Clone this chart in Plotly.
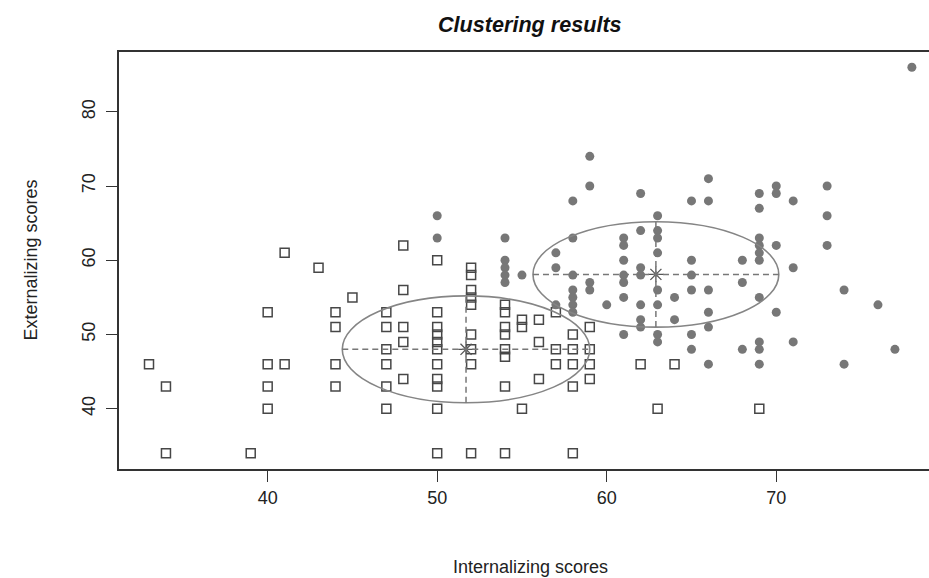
import plotly.graph_objects as go

# ---------------- data ----------------
# cluster 1 (open squares)
sq_x = [33, 34, 34, 39,
        40, 40, 40, 40, 41, 41, 43,
        44, 44, 44, 44, 45,
        47, 47, 47, 47, 47, 47,
        48, 48, 48, 48, 48,
        50, 50, 50, 50, 50, 50, 50, 50, 50, 50, 50,
        52, 52, 52, 52, 52, 52, 52, 52, 52,
        54, 54, 54, 54, 54, 54, 54, 54,
        55, 55, 55, 56, 56, 56, 57, 57, 57,
        58, 58, 58, 58, 58, 59, 59, 59, 59,
        62, 63, 64, 69]
sq_y = [46, 43, 34, 34,
        53, 46, 43, 40, 61, 46, 59,
        53, 51, 46, 43, 55,
        53, 51, 48, 46, 43, 40,
        62, 56, 51, 49, 44,
        60, 53, 51, 50, 49, 48, 46, 44, 43, 40, 34,
        59, 58, 56, 55, 54, 50, 48, 46, 34,
        54, 53, 51, 50, 48, 47, 43, 34,
        52, 51, 40, 52, 49, 44, 53, 48, 46,
        50, 48, 46, 43, 34, 51, 48, 46, 44,
        46, 40, 46, 40]

# cluster 2 (filled circles)
ci_x = [50, 50,
        54, 54, 54, 54, 54, 55,
        57, 57, 57,
        58, 58, 58, 58, 58, 58, 58,
        59, 59, 59, 59, 60,
        61, 61, 61, 61, 61, 61, 61,
        62, 62, 62, 62, 62, 62, 62,
        63, 63, 63, 63, 63, 63, 63, 63,
        64, 64,
        65, 65, 65, 65, 65, 65,
        66, 66, 66, 66, 66, 66,
        68, 68, 68,
        69, 69, 69, 69, 69, 69, 69, 69, 69, 69,
        70, 70, 70, 70,
        71, 71, 71,
        73, 73, 73,
        74, 74, 76, 77, 78]
ci_y = [66, 63,
        63, 60, 59, 58, 57, 58,
        61, 59, 54,
        68, 63, 58, 56, 55, 54, 53,
        74, 70, 57, 56, 54,
        63, 62, 60, 58, 57, 55, 50,
        69, 64, 59, 58, 54, 52, 51,
        66, 64, 63, 61, 56, 54, 50, 49,
        55, 52,
        68, 60, 58, 56, 50, 48,
        71, 68, 56, 53, 51, 46,
        60, 57, 48,
        69, 67, 63, 62, 61, 60, 55, 49, 48, 46,
        70, 69, 62, 53,
        68, 59, 49,
        70, 66, 62,
        56, 46, 54, 48, 86]

# cluster centres and ellipse half-axes (x radius, y radius)
center_x = [51.7, 62.9]
center_y = [48.0, 58.1]
radius_x = [7.3, 7.25]
radius_y = [7.2, 7.1]

x_ticks = [40, 50, 60, 70]
y_ticks = [40, 50, 60, 70, 80]

# ---------------- figure ----------------
FONT = "Liberation Sans, Arial, Helvetica, sans-serif"
fig = go.Figure()

fig.add_trace(go.Scatter(
    x=sq_x, y=sq_y, mode="markers",
    marker=dict(symbol="square-open", size=9, color="#474747",
                line=dict(width=1.5, color="#474747")),
    showlegend=False, hoverinfo="x+y"))

fig.add_trace(go.Scatter(
    x=ci_x, y=ci_y, mode="markers",
    marker=dict(symbol="circle", size=9, color="#777777",
                line=dict(width=0)),
    showlegend=False, hoverinfo="x+y"))

shapes = []
for cx, cy, rx, ry in zip(center_x, center_y, radius_x, radius_y):
    shapes.append(dict(type="circle", xref="x", yref="y",
                       x0=cx - rx, x1=cx + rx, y0=cy - ry, y1=cy + ry,
                       line=dict(color="#858585", width=1.6), layer="above"))
    shapes.append(dict(type="line", xref="x", yref="y",
                       x0=cx - rx, x1=cx + rx, y0=cy, y1=cy,
                       line=dict(color="#777777", width=1.5, dash="6px,4px"),
                       layer="above"))
    shapes.append(dict(type="line", xref="x", yref="y",
                       x0=cx, x1=cx, y0=cy - ry, y1=cy + ry,
                       line=dict(color="#777777", width=1.5, dash="6px,4px"),
                       layer="above"))

fig.add_trace(go.Scatter(
    x=center_x, y=center_y, mode="markers",
    marker=dict(symbol="asterisk-open", size=13, color="#555555",
                line=dict(width=1.3, color="#555555")),
    showlegend=False, hoverinfo="x+y"))

W, H = 929, 578
L, T, B, R = 119, 52, 109, 0
plot_w = W - L - R
plot_h = H - T - B

fig.update_layout(
    width=W, height=H,
    margin=dict(l=L, r=R, t=T, b=B, pad=0),
    paper_bgcolor="white", plot_bgcolor="white",
    font=dict(family=FONT, size=18, color="#222222"),
    shapes=shapes,
    annotations=[
        dict(text="<b><i>Clustering results</i></b>", xref="paper", yref="paper",
             x=(530 - L) / plot_w, y=1 + 27 / plot_h, xanchor="center", yanchor="middle",
             showarrow=False, font=dict(family=FONT, size=21.6, color="#111111")),
        dict(text="Internalizing scores", xref="paper", yref="paper",
             x=(530 - L) / plot_w, y=-98 / plot_h, xanchor="center", yanchor="middle",
             showarrow=False, font=dict(family=FONT, size=18, color="#222222")),
        dict(text="Externalizing scores", xref="paper", yref="paper",
             x=(30 - L) / plot_w, y=0.5, xanchor="center", yanchor="middle",
             textangle=-90, showarrow=False,
             font=dict(family=FONT, size=18, color="#222222")),
    ],
)

fig.update_xaxes(
    range=[31.23, 79.01], tickvals=x_ticks, ticktext=[str(v) for v in x_ticks],
    showgrid=False, zeroline=False,
    showline=True, linecolor="#333333", linewidth=1.5, mirror=True,
    ticks="outside", ticklen=11, tickwidth=1.3, tickcolor="#333333",
    ticklabelstandoff=1,
)
fig.update_yaxes(
    range=[31.88, 88.06], tickvals=y_ticks, ticktext=[str(v) for v in y_ticks],
    showgrid=False, zeroline=False,
    showline=True, linecolor="#333333", linewidth=1.5, mirror=False,
    ticks="outside", ticklen=11, tickwidth=1.3, tickcolor="#333333",
    tickangle=-90, ticklabelstandoff=4,
)

fig.write_html("out.html",
               config={"displayModeBar": False},
               post_script="document.body.style.margin='0';document.body.style.overflow='hidden';")
